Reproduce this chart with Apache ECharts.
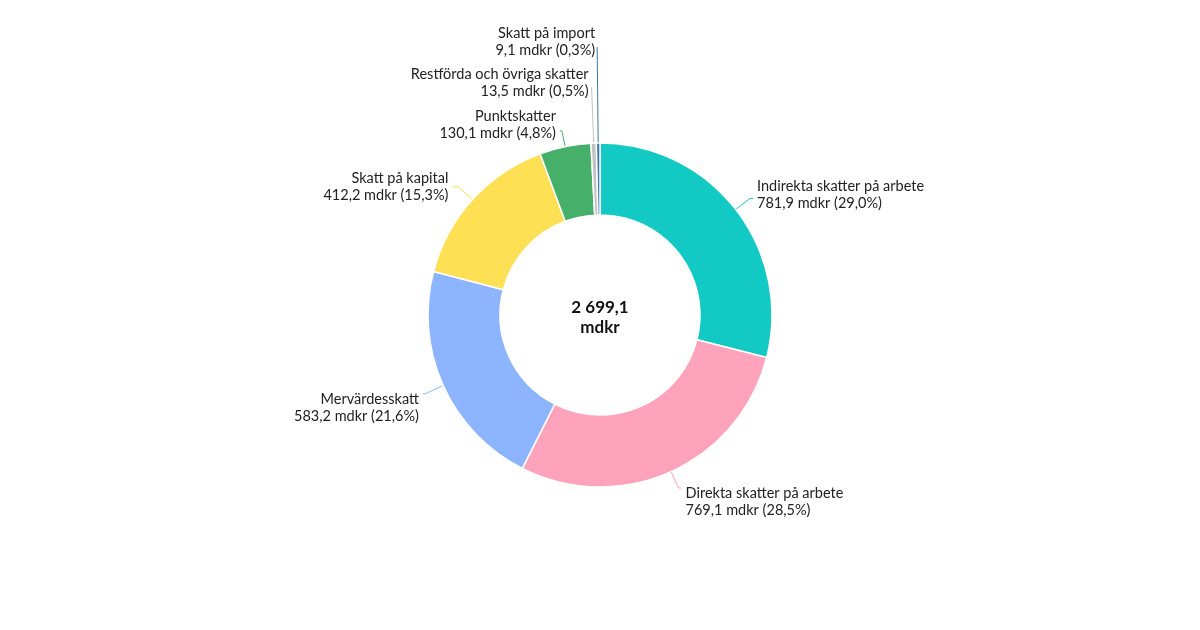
<!DOCTYPE html>
<html><head><meta charset="utf-8">
<script src="https://cdn.jsdelivr.net/npm/echarts@6/dist/echarts.min.js"></script>
<style>html,body{margin:0;padding:0;background:#fff}#c{width:1200px;height:630px}</style>
</head><body><div id="c"></div>
<script>
var categories = ['Indirekta skatter på arbete','Direkta skatter på arbete','Mervärdesskatt','Skatt på kapital','Punktskatter','Restförda och övriga skatter','Skatt på import'];
var values = [781.9, 769.1, 583.2, 412.2, 130.1, 13.5, 9.1];
var totalLabel = '2 699,1\nmdkr';

var colors = ['#12c9c4','#ffa3bd','#8cb4ff','#ffe055','#46b06b','#c2c2c2','#3a77a6'];
var lineLen = [18, 18, 20, 19, 16, 56, 96];
var lineLen2 = [3, 3, 2, 6, 2, 0, 0];
var labelShiftY = [-4, 14, 14, 0, -6, -4, -5];
var labelDist = [4, 4, 4, 4, 4, 3, 2];
var total = values.reduce(function(a,b){return a+b;},0);
function fmt(v){return v.toFixed(1).replace('.',',');}
var chart = echarts.init(document.getElementById('c'));
chart.setOption({
  animation:false,
  graphic:[{type:'text',x:600,y:318,style:{text:totalLabel,align:'center',verticalAlign:'middle',fontFamily:'Lato',fontSize:17,fontWeight:'bold',fill:'#111',lineHeight:20}}],
  series:[{
    type:'pie',
    center:[600,315],
    radius:[100,172],
    startAngle:90,
    clockwise:true,
    avoidLabelOverlap:false,
    itemStyle:{borderColor:'#fff',borderWidth:1.5},
    label:{
      fontFamily:'Lato',fontSize:14.5,color:'#222',lineHeight:17,
      formatter:function(p){return p.name+'\n'+fmt(p.value)+' mdkr ('+fmt(p.value/total*100)+'%)';}
    },
    labelLine:{lineStyle:{width:1}},
    labelLayout:function(p){return {dy:labelShiftY[p.dataIndex]};},
    data:categories.map(function(n,i){return {name:n,value:values[i],itemStyle:{color:colors[i]},
      label:{distanceToLabelLine:labelDist[i]},
      labelLine:{length:lineLen[i],length2:lineLen2[i]}};})
  }]
});
</script></body></html>
